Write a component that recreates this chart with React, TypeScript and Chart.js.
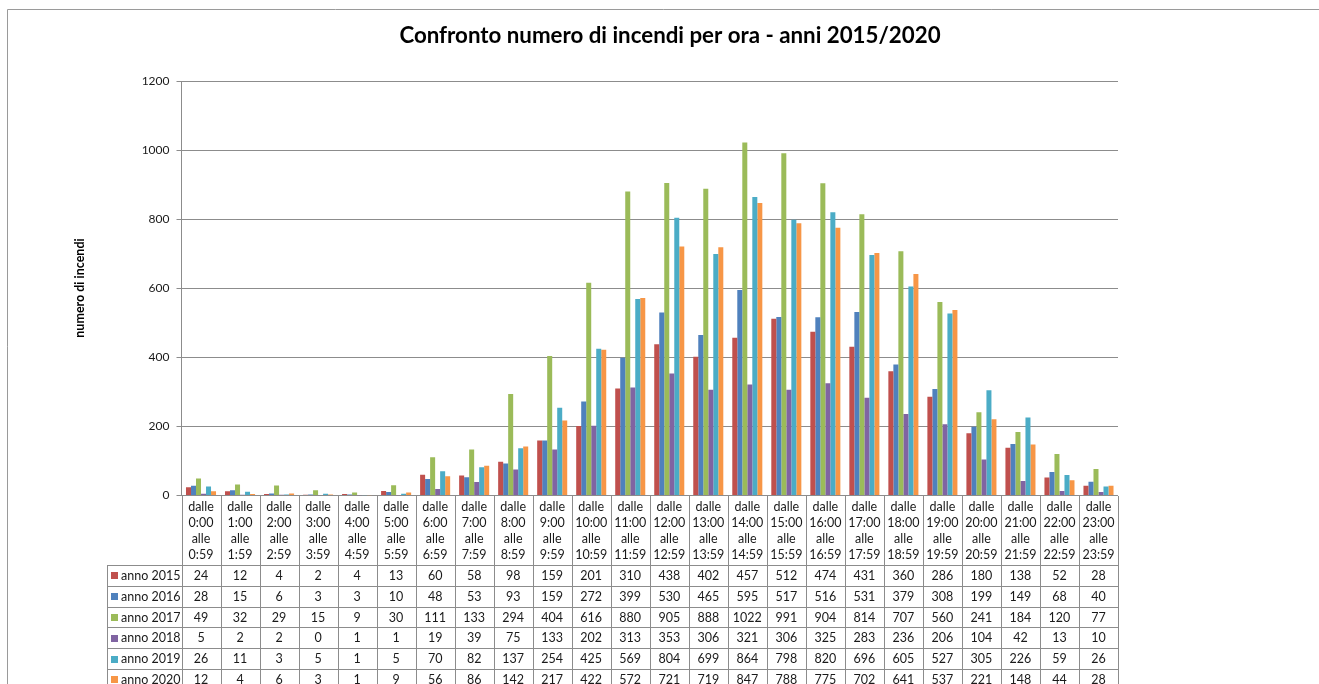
import React, { useEffect, useRef } from "react";
import { Chart, registerables } from "chart.js";
Chart.register(...registerables);

const hourFrom = ["0:00","1:00","2:00","3:00","4:00","5:00","6:00","7:00","8:00","9:00","10:00","11:00","12:00","13:00","14:00","15:00","16:00","17:00","18:00","19:00","20:00","21:00","22:00","23:00"];
const hourTo = ["0:59","1:59","2:59","3:59","4:59","5:59","6:59","7:59","8:59","9:59","10:59","11:59","12:59","13:59","14:59","15:59","16:59","17:59","18:59","19:59","20:59","21:59","22:59","23:59"];

const seriesNames = ["anno 2015","anno 2016","anno 2017","anno 2018","anno 2019","anno 2020"];
const seriesColors = ["#C0504D","#4F81BD","#9BBB59","#8064A2","#4BACC6","#F79646"];

const y2015 = [24,12,4,2,4,13,60,58,98,159,201,310,438,402,457,512,474,431,360,286,180,138,52,28];
const y2016 = [28,15,6,3,3,10,48,53,93,159,272,399,530,465,595,517,516,531,379,308,199,149,68,40];
const y2017 = [49,32,29,15,9,30,111,133,294,404,616,880,905,888,1022,991,904,814,707,560,241,184,120,77];
const y2018 = [5,2,2,0,1,1,19,39,75,133,202,313,353,306,321,306,325,283,236,206,104,42,13,10];
const y2019 = [26,11,3,5,1,5,70,82,137,254,425,569,804,699,864,798,820,696,605,527,305,226,59,26];
const y2020 = [12,4,6,3,1,9,56,86,142,217,422,572,721,719,847,788,775,702,641,537,221,148,44,28];
const seriesValues = [y2015, y2016, y2017, y2018, y2019, y2020];

const titleText = "Confronto numero di incendi per ora - anni 2015/2020";
const yTitleText = "numero di incendi";

const W = 1319;
const H = 684;

const tablePlugin = {
  id: "excelTable",
  beforeDraw(chart: any) {
    const ctx = chart.ctx;
    ctx.save();
    ctx.fillStyle = "#ffffff";
    ctx.fillRect(0, 0, W, H);
    ctx.strokeStyle = "#9a9a9a";
    ctx.lineWidth = 1;
    ctx.beginPath();
    ctx.moveTo(7.5, H);
    ctx.lineTo(7.5, 9.5);
    ctx.lineTo(W, 9.5);
    ctx.stroke();
    ctx.restore();
  },
  afterDraw(chart: any) {
    const ctx = chart.ctx;
    const area = chart.chartArea;
    const xs = chart.scales.x;
    const n = hourFrom.length;
    const colW = (area.right - area.left) / n;
    const tableTop = 565;
    const rowH = 20.8;
    const legendLeft = 107;
    ctx.save();
    ctx.strokeStyle = "#8c8c8c";
    ctx.lineWidth = 1;
    ctx.beginPath();
    for (let k = 0; k <= n; k++) {
      const xx = Math.round(area.left + k * colW) + 0.5;
      ctx.moveTo(xx, Math.round(area.bottom));
      ctx.lineTo(xx, H);
    }
    ctx.moveTo(legendLeft + 0.5, tableTop + 0.5);
    ctx.lineTo(legendLeft + 0.5, H);
    for (let r = 0; r <= seriesNames.length; r++) {
      const yy = Math.round(tableTop + r * rowH) + 0.5;
      ctx.moveTo(legendLeft, yy);
      ctx.lineTo(Math.round(area.right) + 1, yy);
    }
    ctx.stroke();

    // category labels
    ctx.fillStyle = "#1a1a1a";
    ctx.font = "12.5px Lato";
    ctx.textAlign = "center";
    ctx.textBaseline = "middle";
    for (let i = 0; i < n; i++) {
      const cx = xs.getPixelForValue(i);
      const lines = ["dalle", hourFrom[i], "alle", hourTo[i]];
      lines.forEach((t, j) => ctx.fillText(t, cx, 507 + j * 16.1));
    }
    // data table
    for (let r = 0; r < seriesNames.length; r++) {
      const cy = tableTop + r * rowH + rowH / 2 + 0.5;
      ctx.fillStyle = seriesColors[r];
      ctx.fillRect(111, Math.round(cy - 3.5), 7, 7);
      ctx.fillStyle = "#1a1a1a";
      ctx.textAlign = "left";
      ctx.fillText(seriesNames[r], 121, cy);
      ctx.textAlign = "center";
      for (let i = 0; i < n; i++) {
        ctx.fillText(String(seriesValues[r][i]), xs.getPixelForValue(i), cy);
      }
    }
    // title
    ctx.fillStyle = "#000000";
    ctx.font = "bold 22.3px Lato";
    ctx.textAlign = "center";
    ctx.fillText(titleText, 670, 36);
    // y title
    ctx.translate(80, 288);
    ctx.rotate(-Math.PI / 2);
    ctx.font = "bold 12.5px Lato";
    ctx.fillText(yTitleText, 0, 0);
    ctx.restore();
  },
};

export default function App() {
  const ref = useRef<HTMLCanvasElement>(null);
  useEffect(() => {
    if (!ref.current) return;
    const chart = new Chart(ref.current, {
      type: "bar",
      data: {
        labels: hourFrom.map((f, i) => `dalle ${f} alle ${hourTo[i]}`),
        datasets: seriesNames.map((name, i) => ({
          label: name,
          data: seriesValues[i],
          backgroundColor: seriesColors[i],
          borderWidth: 0,
          categoryPercentage: 0.77,
          barPercentage: 1.0,
        })),
      },
      options: {
        animation: false,
        responsive: false,
        devicePixelRatio: 1,
        layout: { padding: { left: 0, top: 81, right: W - 1118, bottom: H - 495.5 } },
        plugins: {
          legend: { display: false },
          title: { display: false },
          tooltip: { enabled: false },
        },
        scales: {
          x: { display: false, grid: { display: false } },
          y: {
            min: 0,
            max: 1200,
            afterFit: (s: any) => { s.width = 181.5; },
            ticks: {
              stepSize: 200,
              padding: 7,
              color: "#1a1a1a",
              font: { family: "Lato", size: 12 },
              callback: (v: any) => String(v),
            },
            grid: { color: "#8c8c8c", tickLength: 5, drawTicks: true },
            border: { display: true, color: "#8c8c8c" },
          },
        },
      },
      plugins: [tablePlugin],
    });
    return () => chart.destroy();
  }, []);
  return (
    <div style={{ position: "absolute", left: 0, top: 0, width: W, height: H, background: "#fff" }}>
      <canvas ref={ref} width={W} height={H} style={{ width: W, height: H, display: "block" }} />
    </div>
  );
}
